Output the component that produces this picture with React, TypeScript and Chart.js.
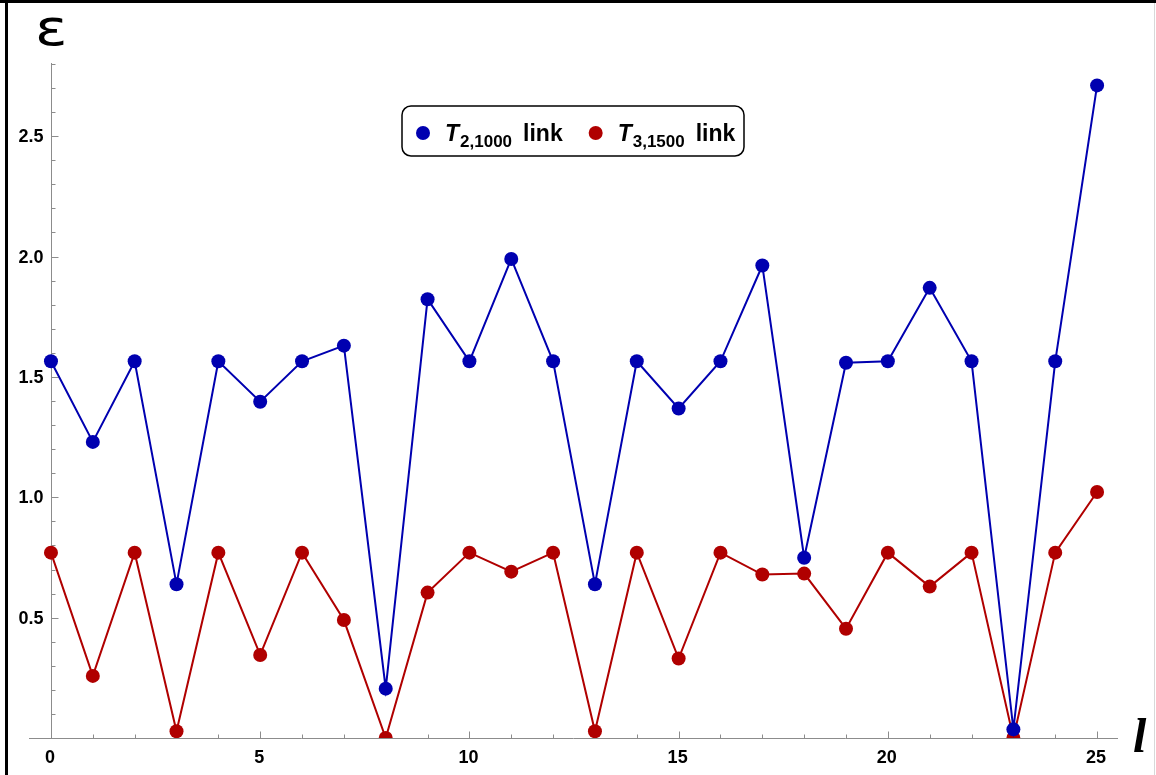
import { useEffect, useRef } from "react";
import { Chart, registerables } from "chart.js";

Chart.register(...registerables);

const indices = [0, 1, 2, 3, 4, 5, 6, 7, 8, 9, 10, 11, 12, 13, 14, 15, 16, 17, 18, 19, 20, 21, 22, 23, 24, 25];
const t2Values = [1.565, 1.23, 1.565, 0.639, 1.565, 1.397, 1.565, 1.63, 0.205, 1.823, 1.565, 1.99, 1.565, 0.639, 1.565, 1.369, 1.565, 1.963, 0.749, 1.559, 1.565, 1.87, 1.565, 0.036, 1.565, 2.711];
const t3Values = [0.77, 0.258, 0.77, 0.028, 0.77, 0.345, 0.77, 0.49, 0.0, 0.604, 0.77, 0.691, 0.77, 0.028, 0.77, 0.33, 0.77, 0.679, 0.683, 0.454, 0.77, 0.629, 0.77, 0.0, 0.77, 1.022];
const xTickValues = [0, 5, 10, 15, 20, 25];
const xTickLabels = ["0", "5", "10", "15", "20", "25"];
const yTickValues = [0.5, 1.0, 1.5, 2.0, 2.5];
const yTickLabels = ["0.5", "1.0", "1.5", "2.0", "2.5"];
const seriesNames = [
  { main: "T", sub: "2,1000", tail: "link" },
  { main: "T", sub: "3,1500", tail: "link" },
];
const seriesColors = ["#0000b0", "#b00000"];

const AXIS_COLOR = "#8c8c8c";
const LABEL_FONT = "bold 18px 'Liberation Sans', Arial, sans-serif";

const decorPlugin = {
  id: "decor",
  beforeDraw(chart: any) {
    const { ctx, width, height } = chart;
    ctx.save();
    ctx.fillStyle = "#ffffff";
    ctx.fillRect(0, 0, width, height);
    ctx.fillStyle = "#000000";
    ctx.fillRect(0, 0, width, 3);
    ctx.fillRect(5, 0, 3, height);
    ctx.fillStyle = "#d8d8d8";
    ctx.fillRect(width - 2, 3, 1, height - 3);
    ctx.restore();
  },
  beforeDatasetsDraw(chart: any) {
    const { ctx, chartArea } = chart;
    const xs = chart.scales.x;
    const ys = chart.scales.y;
    const x0 = Math.round(xs.getPixelForValue(0)) + 0.5;
    const y0 = Math.round(ys.getPixelForValue(0)) + 0.5;
    ctx.save();
    ctx.strokeStyle = AXIS_COLOR;
    ctx.lineWidth = 1;
    ctx.beginPath();
    ctx.moveTo(chartArea.left, y0);
    ctx.lineTo(chartArea.right, y0);
    ctx.moveTo(x0, chartArea.top - 1);
    ctx.lineTo(x0, y0);
    for (let i = 0; i <= 25; i++) {
      const px = Math.round(xs.getPixelForValue(i)) + 0.5;
      const len = i % 5 === 0 ? 7 : 4;
      ctx.moveTo(px, y0);
      ctx.lineTo(px, y0 - len);
    }
    for (let k = 1; k <= 28; k++) {
      const py = Math.round(ys.getPixelForValue(k / 10)) + 0.5;
      const len = k % 5 === 0 ? 7 : 4;
      ctx.moveTo(x0, py);
      ctx.lineTo(x0 + len, py);
    }
    ctx.stroke();

    ctx.fillStyle = "#000000";
    ctx.font = LABEL_FONT;
    ctx.textAlign = "center";
    ctx.textBaseline = "middle";
    xTickValues.forEach((v, i) => {
      ctx.fillText(xTickLabels[i], xs.getPixelForValue(v) - 1, y0 + 20);
    });
    ctx.textAlign = "right";
    yTickValues.forEach((v, i) => {
      ctx.fillText(yTickLabels[i], x0 - 8, ys.getPixelForValue(v) + 1);
    });
    ctx.restore();
  },
  afterDraw(chart: any) {
    const { ctx } = chart;
    ctx.save();
    ctx.fillStyle = "#000000";
    ctx.textBaseline = "alphabetic";
    ctx.textAlign = "left";
    ctx.save();
    ctx.translate(35, 45);
    ctx.scale(1.2, 1);
    ctx.font = "50px 'DejaVu Sans', sans-serif";
    ctx.fillText("ε", 0, 0);
    ctx.restore();
    ctx.font = "italic bold 48px 'Liberation Serif', serif";
    ctx.fillText("l", 1133, 752);

    // legend
    const boxL = 402, boxT = 106, boxW = 342, boxH = 50;
    ctx.fillStyle = "#ffffff";
    ctx.strokeStyle = "#000000";
    ctx.lineWidth = 1.5;
    ctx.beginPath();
    (ctx as any).roundRect(boxL, boxT, boxW, boxH, 9);
    ctx.fill();
    ctx.stroke();

    const cy = boxT + boxH / 2 + 2;
    let x = boxL + 21;
    seriesNames.forEach((s, i) => {
      ctx.fillStyle = chart.data.datasets[i].pointBackgroundColor;
      ctx.beginPath();
      ctx.arc(x, cy, 7, 0, Math.PI * 2);
      ctx.fill();
      let tx = x + 22;
      ctx.fillStyle = "#000000";
      ctx.textBaseline = "alphabetic";
      ctx.font = "italic bold 23px 'Liberation Sans', Arial, sans-serif";
      ctx.fillText(s.main, tx, cy + 8);
      tx += ctx.measureText(s.main).width + 1;
      ctx.font = "bold 17px 'Liberation Sans', Arial, sans-serif";
      ctx.fillText(s.sub, tx, cy + 14);
      tx += ctx.measureText(s.sub).width + 11;
      ctx.font = "bold 23px 'Liberation Sans', Arial, sans-serif";
      ctx.fillText(s.tail, tx, cy + 8);
      tx += ctx.measureText(s.tail).width;
      x = tx + 33;
    });
    ctx.restore();
  },
};

export default function App() {
  const canvasRef = useRef<HTMLCanvasElement | null>(null);

  useEffect(() => {
    const canvas = canvasRef.current;
    if (!canvas) return;
    const makeDataset = (values: number[], color: string) => ({
      data: indices.map((v, i) => ({ x: v, y: values[i] })),
      borderColor: color,
      backgroundColor: color,
      pointBackgroundColor: color,
      pointBorderWidth: 0,
      pointRadius: 7,
      borderWidth: 2,
      tension: 0,
      clip: { left: false, top: false, right: false, bottom: 0 },
    });
    const chart = new Chart(canvas, {
      type: "line",
      data: {
        datasets: [
          makeDataset(t2Values, seriesColors[0]),
          makeDataset(t3Values, seriesColors[1]),
        ] as any,
      },
      options: {
        animation: false,
        responsive: false,
        devicePixelRatio: 1,
        layout: { padding: { left: 29, right: 38, top: 64, bottom: 37 } },
        plugins: { legend: { display: false }, tooltip: { enabled: false } },
        scales: {
          x: { type: "linear", min: -0.525, max: 25.5, display: false },
          y: { type: "linear", min: 0, max: 2.8, display: false },
        },
      } as any,
      plugins: [decorPlugin],
    });
    return () => chart.destroy();
  }, []);

  return (
    <div style={{ position: "absolute", left: 0, top: 0, width: 1156, height: 775 }}>
      <canvas ref={canvasRef} width={1156} height={775} style={{ display: "block" }} />
    </div>
  );
}
